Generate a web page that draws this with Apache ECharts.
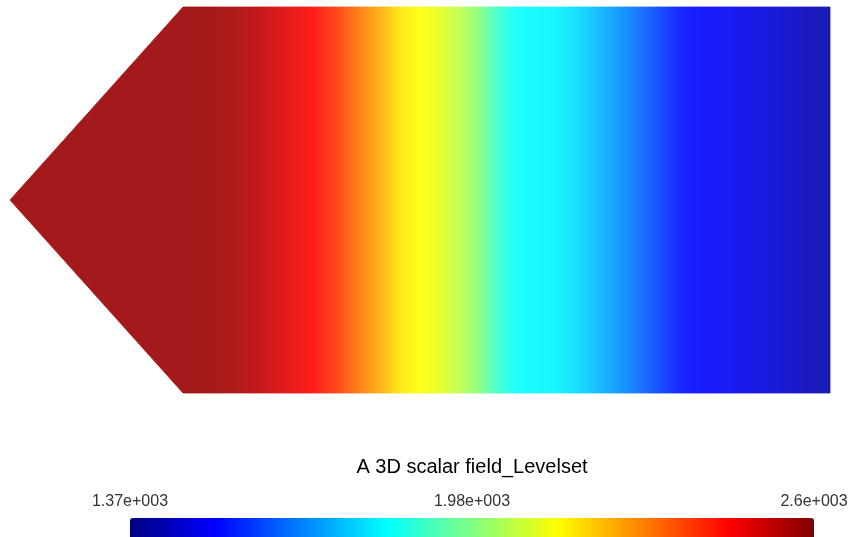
<!DOCTYPE html>
<html>
<head>
<meta charset="utf-8">
<title>A 3D scalar field_Levelset</title>
<script src="https://cdn.jsdelivr.net/npm/echarts@6/dist/echarts.min.js"></script>
<style>
  html, body { margin: 0; padding: 0; background: #ffffff; }
  #chart { width: 852px; height: 537px; }
</style>
</head>
<body>
<div id="chart"></div>
<script>
// Domain of the part: a plate with a pointed (tapered) inlet on the left.
const domainLength = 8.2;
const domainHeight = 3.86;
const taperLength = 1.73;

// Level-set field sampled at stations along the plate (constant across its height).
const stationX = [0, 1.9, 2.2, 2.5, 2.8, 3.05, 3.3, 3.5, 3.7, 3.9, 4.1, 4.3, 4.5, 4.7, 4.9,
                  5.1, 5.3, 5.5, 5.7, 5.9, 6.1, 6.3, 6.5, 6.7, 6.9, 7.1, 7.3, 7.5, 7.7, 7.9, 8.2];
const levelset = [2565, 2565, 2553, 2522, 2473, 2436, 2369, 2301, 2240, 2166, 2136, 2105, 2056, 1982, 1884,
                  1828, 1822, 1810, 1779, 1736, 1693, 1644, 1589, 1540, 1522, 1509, 1497, 1485, 1466, 1448, 1417];

// Colour bar range and its tick values.
const rangeMin = 1368;
const rangeMax = 2596;
const barTicks = [1368, 1982, 2596];

// Jet colour map; the shaded surface version carries a small ambient term.
const jet = ['#000080', '#0000ff', '#0080ff', '#00ffff', '#80ff80', '#ffff00', '#ff8000', '#ff0000', '#800000'];
const jetShaded = jet.map(function (hex) {
  const c = echarts.color.parse(hex);
  const f = v => Math.round(26 + (255 - 26) * v / 255);
  return 'rgb(' + f(c[0]) + ',' + f(c[1]) + ',' + f(c[2]) + ')';
});

// "%.3g"-style label with a three digit exponent, e.g. 1.37e+003
function sciLabel(v) {
  const e = Math.floor(Math.log10(Math.abs(v)));
  const m = parseFloat((v / Math.pow(10, e)).toPrecision(3));
  const ae = Math.abs(e);
  return m + 'e' + (e < 0 ? '-' : '+') + String(ae).padStart(3, '0');
}

const fieldData = stationX.map((x, i) => [x, levelset[i]]);

function edgeTop(x) {
  return x >= taperLength ? domainHeight : domainHeight / 2 + (domainHeight / 2) * x / taperLength;
}
function edgeBottom(x) {
  return domainHeight - edgeTop(x);
}

// Each strip spans two neighbouring stations, clipped to the part outline,
// and is shaded with a gradient between the two stations' colours.
function renderStrip(params, api) {
  const i = params.dataIndexInside;
  if (i >= params.dataInsideLength - 1) return;
  const x0 = api.value(0);
  const x1 = api.value(0, i + 1);
  const c0 = api.visual('color');
  const c1 = api.visual('color', i + 1);
  const xs = [x0];
  if (x0 < taperLength && taperLength < x1) xs.push(taperLength);
  xs.push(x1);
  const upper = xs.map(x => api.coord([x, edgeTop(x)]));
  const lower = xs.slice().reverse().map(x => api.coord([x, edgeBottom(x)]));
  const grad = new echarts.graphic.LinearGradient(0, 0, 1, 0, [
    { offset: 0, color: c0 },
    { offset: 1, color: c1 }
  ]);
  return {
    type: 'polygon',
    shape: { points: upper.concat(lower) },
    style: { fill: grad, stroke: grad, lineWidth: 0.8 }
  };
}

const chart = echarts.init(document.getElementById('chart'), null, { renderer: 'canvas' });
const fontFamily = '"Liberation Sans", Arial, sans-serif';

chart.setOption({
  animation: false,
  backgroundColor: '#ffffff',
  title: {
    text: 'A 3D scalar field_Levelset',
    left: 472,
    textAlign: 'center',
    top: 457,
    padding: 0,
    textStyle: { fontSize: 20, fontWeight: 'normal', color: '#000000', fontFamily: fontFamily }
  },
  grid: [
    { left: 10, top: 7, width: 820, height: 386 },
    { left: 130, top: 518, width: 684, height: 19 }
  ],
  xAxis: [
    { type: 'value', gridIndex: 0, min: 0, max: domainLength, show: false },
    {
      type: 'value', gridIndex: 1, min: rangeMin, max: rangeMax, position: 'top',
      axisLine: { show: false }, axisTick: { show: false }, splitLine: { show: false },
      axisLabel: {
        customValues: barTicks,
        formatter: sciLabel,
        margin: 8,
        fontSize: 16,
        color: '#333333',
        fontFamily: fontFamily
      }
    }
  ],
  yAxis: [
    { type: 'value', gridIndex: 0, min: 0, max: domainHeight, show: false },
    { type: 'value', gridIndex: 1, min: 0, max: 1, show: false }
  ],
  visualMap: [
    {
      type: 'continuous', show: false, seriesIndex: 0, dimension: 1,
      min: rangeMin, max: rangeMax,
      inRange: { color: jetShaded }
    },
    {
      type: 'continuous', show: true, seriesIndex: [],
      min: rangeMin, max: rangeMax,
      orient: 'horizontal', left: 130, top: 518, padding: 0,
      itemWidth: 22, itemHeight: 684,
      calculable: false, text: null, showLabel: false,
      inRange: { color: jet }
    }
  ],
  series: [
    {
      type: 'custom',
      name: 'Levelset',
      xAxisIndex: 0,
      yAxisIndex: 0,
      renderItem: renderStrip,
      encode: { x: 0, y: 1 },
      data: fieldData,
      silent: true
    }
  ]
});
</script>
</body>
</html>
